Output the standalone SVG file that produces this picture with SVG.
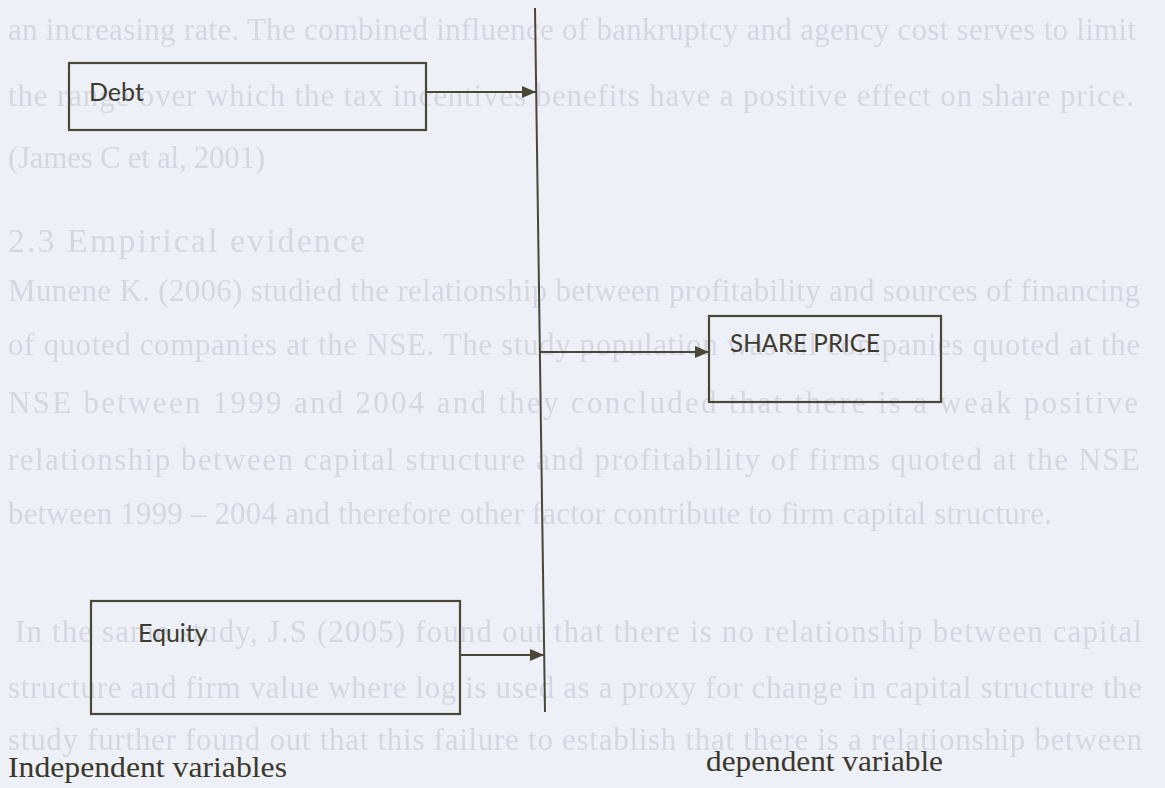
<svg xmlns="http://www.w3.org/2000/svg" width="1165" height="788" viewBox="0 0 1165 788">
<defs>
<style>
.ghost{font-family:"Liberation Serif","Times New Roman",serif;font-size:31px;fill:#d5d8e1}
.box{fill:none;stroke:#4a4737;stroke-width:2.2}
.lbl{font-family:Lato,"Noto Sans",sans-serif;font-size:25px;fill:#3d3a2e}
.cap{font-family:"Liberation Serif","Times New Roman",serif;font-size:30px;fill:#3a372b}
.conn{fill:none;stroke:#4a4737;stroke-width:2}
</style>
<filter id="soft" x="0" y="0" width="1" height="1"><feGaussianBlur stdDeviation="0.7"/></filter>
<marker id="ah" viewBox="0 0 14 12" refX="14" refY="6" markerWidth="14" markerHeight="12" markerUnits="userSpaceOnUse" orient="auto">
<path d="M0,0 L14,6 L0,12 Z" fill="#4a4737"/>
</marker>
</defs>
<rect width="1165" height="788" fill="#eef0f8"/>
<g id="ghost-text" filter="url(#soft)">
<text class="ghost" x="8" y="40" textLength="1128" lengthAdjust="spacing">an increasing rate. The combined influence of bankruptcy and agency cost serves to limit</text>
<text class="ghost" x="8" y="106" textLength="1126" lengthAdjust="spacing">the range over which the tax incentives benefits have a positive effect on share price.</text>
<text class="ghost" x="8" y="168" textLength="257" lengthAdjust="spacing">(James C et al, 2001)</text>
<text class="ghost" x="8" y="252" style="font-size:34px" textLength="357" lengthAdjust="spacing">2.3 Empirical evidence</text>
<text class="ghost" x="8" y="301" textLength="1132" lengthAdjust="spacing">Munene K. (2006) studied the relationship between profitability and sources of financing</text>
<text class="ghost" x="8" y="355" textLength="1132" lengthAdjust="spacing">of quoted companies at the NSE. The study population was all companies quoted at the</text>
<text class="ghost" x="8" y="413" textLength="1130" lengthAdjust="spacing">NSE between 1999 and 2004 and they concluded that there is a weak positive</text>
<text class="ghost" x="8" y="470" textLength="1132" lengthAdjust="spacing">relationship between capital structure and profitability of firms quoted at the NSE</text>
<text class="ghost" x="8" y="524" textLength="1044" lengthAdjust="spacing">between 1999 – 2004 and therefore other factor contribute to firm capital structure.</text>
<text class="ghost" x="15" y="642" textLength="1127" lengthAdjust="spacing">In the same study, J.S (2005) found out that there is no relationship between capital</text>
<text class="ghost" x="8" y="698" textLength="1134" lengthAdjust="spacing">structure and firm value where log is used as a proxy for change in capital structure the</text>
<text class="ghost" x="8" y="750" textLength="1134" lengthAdjust="spacing">study further found out that this failure to establish that there is a relationship between</text>
</g>
<g id="connectors">
<line class="conn" x1="535" y1="8" x2="545" y2="712"/>
<line class="conn" x1="426" y1="92" x2="536" y2="92" marker-end="url(#ah)"/>
<line class="conn" x1="540" y1="352" x2="709" y2="352" marker-end="url(#ah)"/>
<line class="conn" x1="460" y1="655" x2="544" y2="655" marker-end="url(#ah)"/>
</g>
<g id="node-debt">
<rect class="box" x="69" y="63" width="357" height="67"/>
<text class="lbl" x="89" y="101">Debt</text>
</g>
<g id="node-share-price">
<rect class="box" x="709" y="316" width="232" height="86"/>
<text class="lbl" x="730" y="352" textLength="150" lengthAdjust="spacingAndGlyphs">SHARE PRICE</text>
</g>
<g id="node-equity">
<rect class="box" x="91" y="601" width="369" height="113"/>
<text class="lbl" x="138" y="642">Equity</text>
</g>
<g id="captions">
<text class="cap" x="8" y="777" textLength="279" lengthAdjust="spacingAndGlyphs">Independent variables</text>
<text class="cap" x="706" y="771" textLength="237" lengthAdjust="spacingAndGlyphs">dependent variable</text>
</g>
</svg>
